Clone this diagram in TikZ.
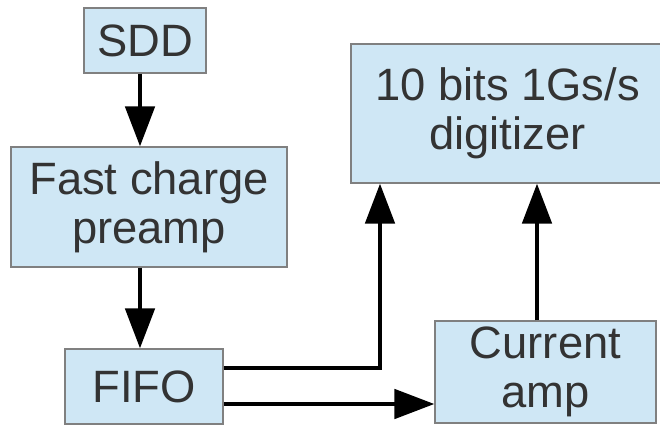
\documentclass[tikz,border=0pt]{standalone}
\usepackage{fontspec}
\setmainfont{Liberation Sans}
\usetikzlibrary{arrows.meta,positioning}
\definecolor{boxfill}{HTML}{CFE7F5}
\definecolor{boxline}{HTML}{808080}
\definecolor{boxtext}{HTML}{333333}

\begin{document}
\begin{tikzpicture}[
            x=0.75pt, y=-0.75pt,
            block/.style={draw=boxline, line width=1pt, fill=boxfill,
                text=boxtext, align=center, inner sep=0pt,
                font=\fontsize{34}{37}\selectfont},
            flow/.style={line width=3pt, -{Triangle[length=30pt,width=22pt]}},
            link/.style={line width=3pt}]

        \fill[white] (0,0) rectangle (660,425);
        \useasboundingbox (0,0) rectangle (660,425);

        % blocks
        \node[block, minimum width=91.5pt, minimum height=48.75pt]
            (sdd) at (145,40.5) {SDD};
        \node[block, minimum width=207pt, minimum height=90pt]
            (preamp) at (149,207) {Fast charge\\preamp};
        \node[block, minimum width=118.5pt, minimum height=56.25pt]
            (fifo) at (144,386.5) {FIFO};
        \node[block, minimum width=234.75pt, minimum height=104.25pt]
            (digitizer) at (507.5,113.5) {10 bits 1Gs/s\\digitizer};
        \node[block, minimum width=165.75pt, minimum height=76.5pt]
            (amp) at (545.5,372) {Current\\amp};

        % helper points for the wiring
        \coordinate (spine) at (140,0);
        \coordinate (upper) at (0,368);
        \coordinate (lower) at (0,404);
        \coordinate (turn) at (380,0);
        \coordinate (riser) at (537,0);

        \draw[flow] (sdd.south -| spine) -- (preamp.north -| spine);
        \draw[flow] (preamp.south -| spine) -- (fifo.north -| spine);
        \draw[flow] (fifo.east |- upper) -| (digitizer.south -| turn);
        \draw[flow] (fifo.east |- lower) -- (amp.west |- lower);
        \draw[flow] (amp.north -| riser) -- (digitizer.south -| riser);
    \end{tikzpicture}
\end{document}
